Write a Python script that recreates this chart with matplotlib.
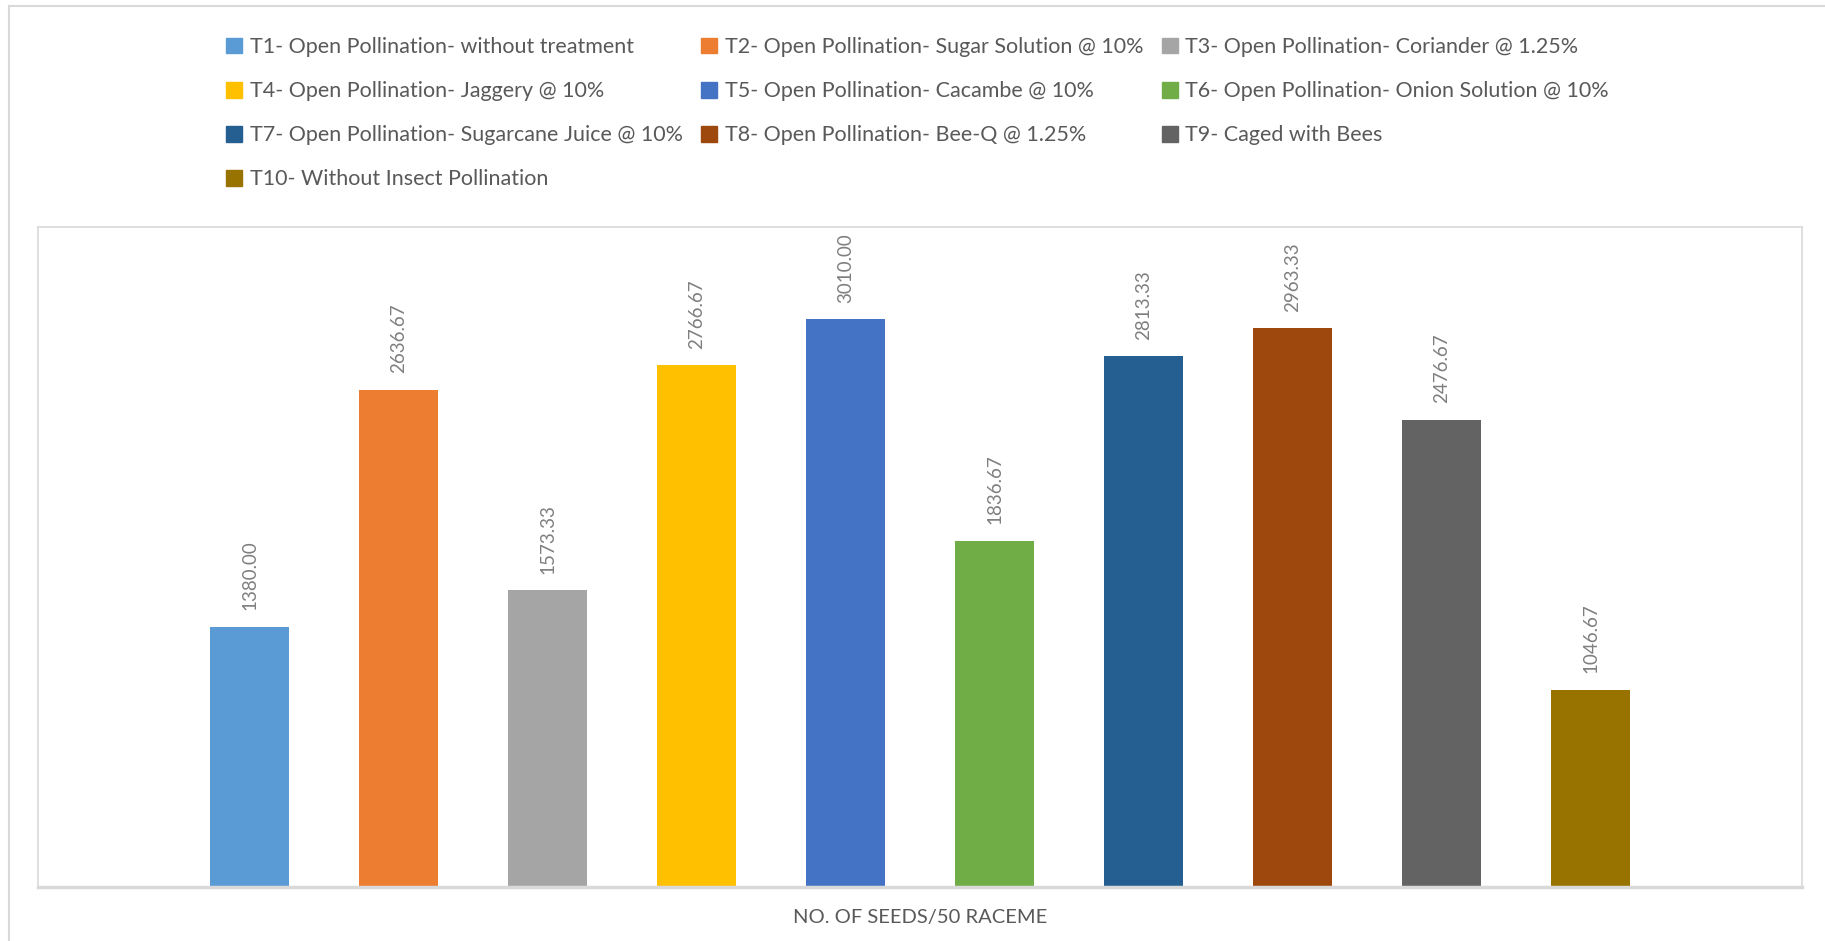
#!/usr/bin/env python

import matplotlib as mpl
import matplotlib.pyplot as plt
import matplotlib.patches as mpatches
from matplotlib.lines import Line2D

# data
treatments = [
    'T1- Open Pollination- without treatment',
    'T2- Open Pollination- Sugar Solution @ 10%',
    'T3- Open Pollination- Coriander @ 1.25%',
    'T4- Open Pollination- Jaggery @ 10%',
    'T5- Open Pollination- Cacambe @ 10%',
    'T6- Open Pollination- Onion Solution @ 10%',
    'T7- Open Pollination- Sugarcane Juice @ 10%',
    'T8- Open Pollination- Bee-Q @ 1.25%',
    'T9- Caged with Bees',
    'T10- Without Insect Pollination',
]
seeds = [1380.00, 2636.67, 1573.33, 2766.67, 3010.00, 1836.67, 2813.33, 2963.33, 2476.67, 1046.67]
bar_colors = ['#5B9BD5', '#ED7D31', '#A5A5A5', '#FFC000', '#4472C4',
              '#70AD47', '#255E91', '#9E480E', '#636363', '#997300']
xlabel = 'NO. OF SEEDS/50 RACEME'


def main():

    plt.rc('font', family=['Lato', 'DejaVu Sans'])

    fig = plt.figure(figsize=(18.25, 9.41), dpi=100)
    ax = fig.add_axes([0.0208, 0.0574, 0.9666, 0.7014])

    # bars, one per treatment
    for i, (lab, val) in enumerate(zip(treatments, seeds)):
        ax.bar(i, val, width=0.53, color=bar_colors[i], label=lab)
        ax.annotate('%.2f' % val, xy=(i, val), xytext=(0, 12), textcoords='offset points',
                    rotation=90, ha='center', va='bottom', fontsize=13.5, color='#7F7F7F')

    ax.set_xlim(-1.42, 10.42)
    ax.set_ylim(0, 3500)
    ax.set_xticks([])
    ax.set_yticks([])

    for s in ['left', 'right', 'top']:
        ax.spines[s].set_color('#D9D9D9')
        ax.spines[s].set_linewidth(1.2)
    ax.spines['bottom'].set_color('#D9D9D9')
    ax.spines['bottom'].set_linewidth(2.5)

    ax.set_xlabel(xlabel, fontsize=14.5, color='#595959', labelpad=16)

    # legend - Excel fills rows first, matplotlib fills columns first
    order = [0, 3, 6, 9, 1, 4, 7, 2, 5, 8]
    handles = [mpatches.Patch(color=bar_colors[k]) for k in order]
    labels = [treatments[k] for k in order]
    fig.legend(handles, labels, ncol=3, loc='upper left',
               bbox_to_anchor=(0.118, 0.972), frameon=False,
               fontsize=15.5, labelcolor='#595959',
               handlelength=0.75, handleheight=0.75, handletextpad=0.35,
               columnspacing=0.85, labelspacing=1.12, borderpad=0)

    # outer chart border (only left and top visible)
    fig.add_artist(Line2D([0.0052, 0.0052], [0, 0.9936], color='#D9D9D9', lw=1.5,
                          transform=fig.transFigure))
    fig.add_artist(Line2D([0.0052, 1], [0.9936, 0.9936], color='#D9D9D9', lw=1.5,
                          transform=fig.transFigure))

    fig.savefig('out.png', dpi=100)


if __name__ == '__main__':
    main()
